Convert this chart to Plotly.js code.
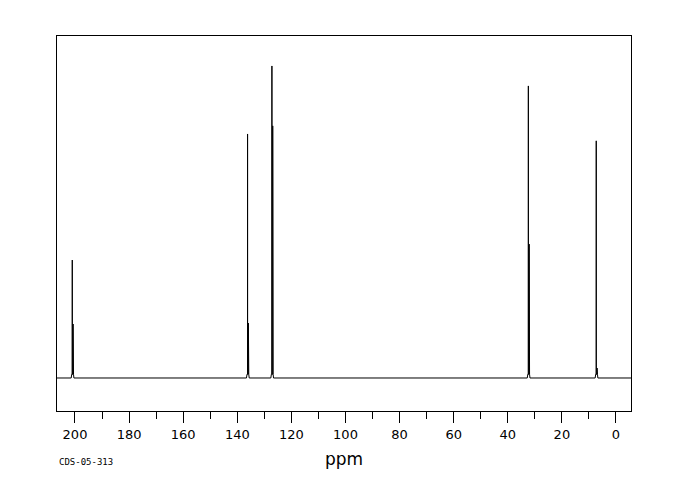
<!DOCTYPE html>
<html>
<head>
<meta charset="utf-8">
<script src="https://cdn.plot.ly/plotly-3.0.1.min.js"></script>
<style>html,body{margin:0;padding:0;background:#fff;}#chart{width:680px;height:500px;}</style>
</head>
<body>
<div id="chart"></div>
<script>
// Peak positions (ppm) and relative intensities
const peakPpm = [201.0, 136.2, 127.2, 32.4, 7.3];
const peakMain = [37.8, 78.2, 100.0, 93.6, 76.0];
const peakSide = [17.3, 17.6, 80.8, 42.9, 3.2];
const tickVals = [200, 180, 160, 140, 120, 100, 80, 60, 40, 20, 0];
const tickText = ["200", "180", "160", "140", "120", "100", "80", "60", "40", "20", "0"];
const xRange = [206.65, -5.55];
const yRange = [-10.58, 109.6];
const specLabel = "CDS-05-313";
const axisLabel = "ppm";

// build spectrum trace: baseline with stick peaks (side stick just upfield of main)
const xs = [xRange[0]], ys = [0];
const order = peakPpm.map((p, i) => i).sort((a, b) => peakPpm[b] - peakPpm[a]);
for (const i of order) {
  const p = peakPpm[i];
  xs.push(p + 0.4, p + 0.2, p, p, p, p - 0.3, p - 0.3, p - 0.3, p - 0.45, p - 0.6);
  ys.push(0, 1.2, 1.2, peakMain[i], 1.2, 1.2, peakSide[i], 1.2, 1.2, 0);
}
xs.push(xRange[1]); ys.push(0);

const trace = {
  x: xs, y: ys, type: 'scatter', mode: 'lines',
  line: {color: '#000', width: 1, shape: 'linear'},
  hoverinfo: 'skip'
};

const layout = {
  width: 680, height: 500,
  margin: {l: 57, r: 49, t: 36, b: 89},
  paper_bgcolor: '#fff', plot_bgcolor: '#fff',
  showlegend: false,
  font: {family: 'DejaVu Sans, sans-serif', color: '#000'},
  xaxis: {
    range: xRange, autorange: false,
    showgrid: false, zeroline: false,
    showline: true, linecolor: '#000', linewidth: 1, mirror: true,
    ticks: 'outside', ticklen: 11, tickwidth: 1, tickcolor: '#000',
    tickvals: tickVals, ticktext: tickText,
    tickfont: {size: 13, family: 'DejaVu Sans, sans-serif', color: '#000'},
    minor: {dtick: 10, tick0: 0, ticks: 'outside', ticklen: 7, tickwidth: 1, tickcolor: '#000', showgrid: false},
    title: {text: axisLabel, font: {size: 17, family: 'DejaVu Sans, sans-serif', color: '#000'}, standoff: 12}
  },
  yaxis: {
    range: yRange, autorange: false,
    showgrid: false, zeroline: false, showticklabels: false, ticks: '',
    showline: true, linecolor: '#000', linewidth: 1, mirror: true
  },
  annotations: [{
    text: specLabel, xref: 'paper', yref: 'paper', x: 0, y: -0.136,
    xanchor: 'left', yanchor: 'middle', showarrow: false,
    font: {size: 9, family: 'DejaVu Sans Mono, monospace', color: '#000'}
  }]
};

Plotly.newPlot('chart', [trace], layout, {staticPlot: true, displayModeBar: false});
</script>
</body>
</html>
